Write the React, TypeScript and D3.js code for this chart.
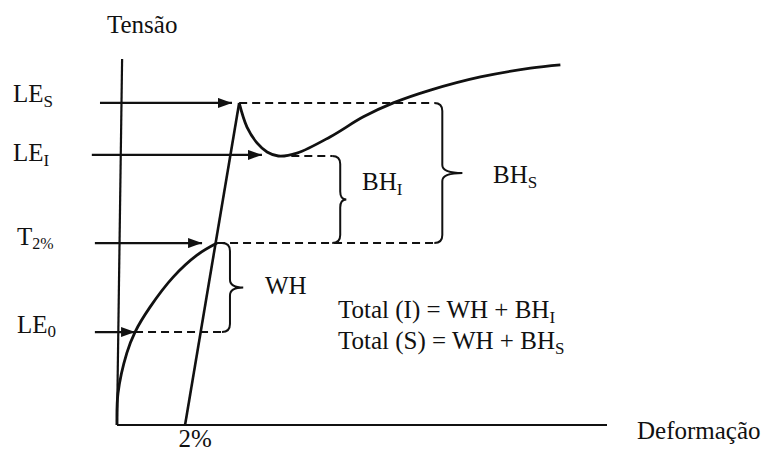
import React from "react";
import * as d3 from "d3";

// Strain (%) and stress (arbitrary units)
const strainDomain: [number, number] = [0, 14.4];
const stressDomain: [number, number] = [0, 100];

const preCurveStrain = [0, 0.03, 0.29, 0.53, 0.97, 1.65, 2.35, 2.94];
const preCurveStress = [0, 8.7, 19.7, 25.4, 32.2, 40.4, 46.4, 49.7];

const postCurveStrain = [3.59, 3.82, 4.12, 4.41, 4.74, 5.29, 6.26, 7.24, 8.12, 9.21, 10.68, 12.15, 13.03];
const postCurveStress = [88.0, 81.4, 77.0, 74.6, 73.5, 74.3, 78.7, 84.2, 88.0, 91.5, 95.1, 97.5, 98.4];

const elasticStrain = [2, 3.59];
const elasticStress = [0, 88];

const levelMain = ["LE", "LE", "T", "LE"];
const levelSub = ["S", "I", "2%", "0"];
const levelStress = [88, 73.8, 49.7, 25.4];
const arrowFrom = [-0.5, -0.74, -0.65, -0.65];
const arrowTo = [3.38, 4.26, 2.5, 0.53];

const dashStress = [88, 73.5, 49.7, 25.4];
const dashFrom = [3.59, 4.74, 2.94, 0.53];
const dashTo = [9.56, 6.56, 9.56, 3.32];

const braceStrain = [3.32, 6.56, 9.56];
const braceLow = [25.4, 49.7, 49.7];
const braceHigh = [49.7, 73.5, 88];
const braceTip = [3.71, 6.74, 10.15];

const xTickValues = [2];
const xTickLabels = ["2%"];

const W = 768;
const H = 452;
const INK = "#111";
const FONT = "Liberation Serif, Times New Roman, Times, DejaVu Serif, serif";
const T = { fontFamily: FONT, fill: INK } as React.CSSProperties;

export default function App() {
  const x = d3.scaleLinear().domain(strainDomain).range([117, 607]);
  const y = d3.scaleLinear().domain(stressDomain).range([425, 59]);

  const line = d3
    .line<[number, number]>()
    .x((d) => x(d[0]))
    .y((d) => y(d[1]))
    .curve(d3.curveCatmullRom.alpha(0.5));

  const pre = preCurveStrain.map((s, i) => [s, preCurveStress[i]] as [number, number]);
  const post = postCurveStrain.map((s, i) => [s, postCurveStress[i]] as [number, number]);
  const elastic = elasticStrain.map((s, i) => [s, elasticStress[i]] as [number, number]);

  const r = 8;
  const bracePath = (bx: number, yTop: number, yBot: number, tx: number) => {
    const p = d3.path();
    const yMid = (yTop + yBot) / 2;
    p.moveTo(bx - r, yTop);
    p.quadraticCurveTo(bx, yTop, bx, yTop + r);
    p.lineTo(bx, yMid - r);
    p.quadraticCurveTo(bx, yMid, tx, yMid);
    p.quadraticCurveTo(bx, yMid, bx, yMid + r);
    p.lineTo(bx, yBot - r);
    p.quadraticCurveTo(bx, yBot, bx - r, yBot);
    return p.toString();
  };

  return (
    <svg
      width={W}
      height={H}
      style={{ position: "absolute", left: 0, top: 0, background: "#fff", fontFamily: FONT }}
    >
      <defs>
        <marker
          id="arrow"
          viewBox="0 0 14 10"
          refX={14}
          refY={5}
          markerWidth={14}
          markerHeight={10}
          markerUnits="userSpaceOnUse"
          orient="auto"
        >
          <path d="M0,0 L14,5 L0,10 Z" fill={INK} />
        </marker>
      </defs>
      <rect x={0} y={0} width={W} height={H} fill="#fff" />

      {/* axes */}
      <line x1={x(0)} y1={y(0)} x2={x(0.15)} y2={y(100)} stroke={INK} strokeWidth={2.2} />
      <line x1={x(0)} y1={y(0)} x2={x(14.4)} y2={y(0)} stroke={INK} strokeWidth={2.2} />

      {/* dashed level lines */}
      {dashStress.map((t, i) => (
        <line
          key={"d" + i}
          x1={x(dashFrom[i])}
          y1={y(t)}
          x2={x(dashTo[i]) - r}
          y2={y(t)}
          stroke={INK}
          strokeWidth={2}
          strokeDasharray="8 5"
        />
      ))}

      {/* braces */}
      {braceStrain.map((s, i) => (
        <path
          key={"b" + i}
          d={bracePath(x(s), y(braceHigh[i]), y(braceLow[i]), x(braceTip[i]))}
          fill="none"
          stroke={INK}
          strokeWidth={2}
        />
      ))}

      {/* curves */}
      <path d={line(pre) || ""} fill="none" stroke={INK} strokeWidth={2.8} />
      <path d={line(post) || ""} fill="none" stroke={INK} strokeWidth={2.8} />
      <path d={line(elastic) || ""} fill="none" stroke={INK} strokeWidth={2.6} />

      {/* arrows */}
      {levelStress.map((t, i) => (
        <line
          key={"a" + i}
          x1={x(arrowFrom[i])}
          y1={y(t)}
          x2={x(arrowTo[i])}
          y2={y(t)}
          stroke={INK}
          strokeWidth={2.2}
          markerEnd="url(#arrow)"
        />
      ))}

      {/* level labels */}
      <text x={13} y={102} fontSize={25} style={T}>
        {levelMain[0]}
        <tspan fontSize={17} dy={5}>{levelSub[0]}</tspan>
      </text>
      <text x={13} y={161} fontSize={25} style={T}>
        {levelMain[1]}
        <tspan fontSize={17} dy={5}>{levelSub[1]}</tspan>
      </text>
      <text x={17} y={245} fontSize={25} style={T}>
        {levelMain[2]}
        <tspan fontSize={16} dy={4}>{levelSub[2]}</tspan>
      </text>
      <text x={17} y={333} fontSize={25} style={T}>
        {levelMain[3]}
        <tspan fontSize={17} dy={4}>{levelSub[3]}</tspan>
      </text>

      {/* axis titles */}
      <text x={107} y={33} fontSize={25} style={T}>Tensão</text>
      <text x={637} y={439} fontSize={25} style={T}>Deformação</text>
      {xTickValues.map((v, i) => (
        <text key={"t" + i} x={x(v) + 10} y={447} fontSize={25} style={T} textAnchor="middle">
          {xTickLabels[i]}
        </text>
      ))}

      {/* brace labels */}
      <text x={265} y={294} fontSize={25} style={T}>WH</text>
      <text x={362} y={190} fontSize={25} style={T}>
        BH<tspan fontSize={17} dy={5}>I</tspan>
      </text>
      <text x={493} y={183} fontSize={25} style={T}>
        BH<tspan fontSize={17} dy={5}>S</tspan>
      </text>

      {/* formulas */}
      <text x={338} y={318} fontSize={25} style={T}>
        Total (I) = WH + BH<tspan fontSize={17} dy={5}>I</tspan>
      </text>
      <text x={338} y={349} fontSize={25} style={T}>
        Total (S) = WH + BH<tspan fontSize={17} dy={5}>S</tspan>
      </text>
    </svg>
  );
}
